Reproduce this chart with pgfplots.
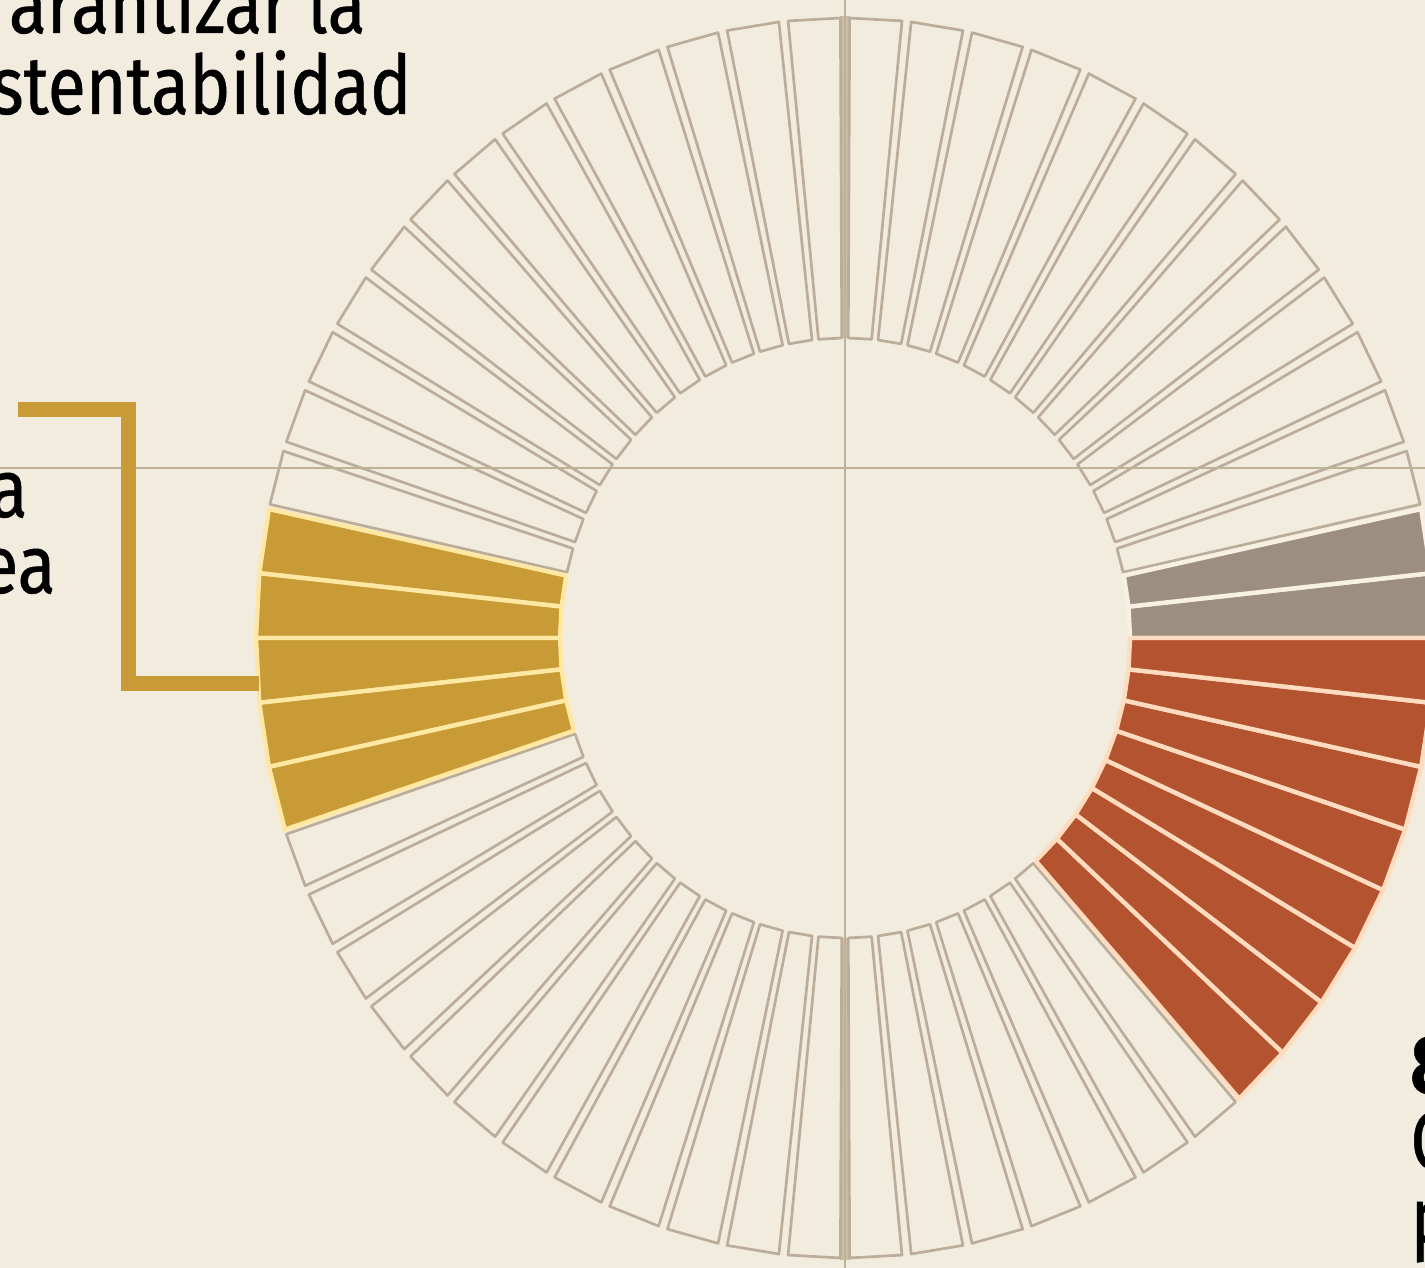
\documentclass[border=0pt]{standalone}
\usepackage{pgfplots}
\pgfplotsset{compat=1.18}
\usepgfplotslibrary{polar}
\usepackage{fontspec}
\setmainfont{Fira Sans}[FakeStretch=0.85, FakeBold=0.6]

\definecolor{bg}{HTML}{F2ECDF}
\definecolor{rim}{HTML}{BBAD99}
\definecolor{guide}{HTML}{BFB09A}
\definecolor{band}{HTML}{CBBCA6}
\definecolor{gold}{HTML}{C99B36}
\definecolor{goldlight}{HTML}{FFE8A3}
\definecolor{rust}{HTML}{B4532F}
\definecolor{rustlight}{HTML}{FFDCC0}
\definecolor{stone}{HTML}{9D8F7F}
\definecolor{stonelight}{HTML}{F7F0E3}

\pgfplotsset{
  seg empty/.style={data cs=polar, fill=bg, draw=rim, line width=1.35pt, line join=round},
  seg gold/.style={data cs=polar, fill=gold, draw=goldlight, line width=2.2pt, line join=round},
  seg rust/.style={data cs=polar, fill=rust, draw=rustlight, line width=2.2pt, line join=round},
  seg stone/.style={data cs=polar, fill=stone, draw=stonelight, line width=2.2pt, line join=round},
}

\begin{document}
\begin{tikzpicture}
\useasboundingbox (0,0) rectangle (712.5pt,634pt);
\clip (0,0) rectangle (712.5pt,634pt);
\fill[bg] (0,0) rectangle (712.5pt,634pt);
\begin{axis}[
    at={(0,0)}, anchor=south west,
    width=712.5pt, height=634pt, scale only axis,
    xmin=-889.5, xmax=610.5, ymin=-630, ymax=638,
    hide axis, clip=false,
  ]
  % thick guide in the ring gaps at top and bottom
  \addplot[band, line width=5pt] coordinates {(0,300) (0,622)};
  \addplot[band, line width=5pt] coordinates {(0,-300) (0,-622)};

  % 60 segments of 6 degrees; outlined ones first
  \pgfplotsforeachungrouped \k in {2,3,4,5,6,7,8,9,10,11,12,13,14,15,16,17,18,19,20,
      21,22,23,24,25,26,27,33,34,35,36,37,38,39,40,41,42,43,44,45,46,47,48,49,50,51} {
    \pgfmathsetmacro\ai{6*\k+0.65}
    \pgfmathsetmacro\ao{6*\k+0.45}
    \pgfmathsetmacro\bo{6*\k+5.55}
    \pgfmathsetmacro\bi{6*\k+5.35}
    \edef\temp{\noexpand\addplot[seg empty] coordinates {(\ai,300) (\ao,620) (\bo,620) (\bi,300)} -- cycle;}
    \temp
  }
  % coloured segments
  \pgfplotsforeachungrouped \k/\c in {0/stone,1/stone,
      28/gold,29/gold,30/gold,31/gold,32/gold,
      52/rust,53/rust,54/rust,55/rust,56/rust,57/rust,58/rust,59/rust} {
    \pgfmathsetmacro\a{6*\k}
    \pgfmathsetmacro\b{6*\k+6}
    \edef\temp{\noexpand\addplot[seg \c] coordinates {(\a,300) (\a,620) (\b,620) (\b,300)} -- cycle;}
    \temp
  }

  % thin guide lines
  \addplot[guide, line width=1.1pt] coordinates {(0,-630) (0,638)};
  \addplot[guide, line width=1.1pt] coordinates {(-889.5,170) (610.5,170)};

  % gold leader
  \addplot[gold, line width=7.5pt] coordinates {(-870.5,228) (-754.7,228) (-754.7,-46) (-617,-46)};
\end{axis}

\begin{scope}[every node/.style={inner sep=0pt, font=\fontsize{41}{49}\selectfont}]
  \node[anchor=base east] at (183pt,617.5pt) {arantizar la};
  \node[anchor=base east] at (206pt,577pt) {stentabilidad};
  \node[anchor=base east] at (14pt,375.5pt) {a};
  \node[anchor=base east] at (28pt,337.5pt) {ea};
  \node[anchor=base west, font=\fontsize{41}{49}\selectfont\bfseries] at (705pt,87.5pt) {8};
  \node[anchor=base west] at (705pt,49.5pt) {C};
  \node[anchor=base west] at (705pt,11.5pt) {p};
\end{scope}
\end{tikzpicture}
\end{document}
